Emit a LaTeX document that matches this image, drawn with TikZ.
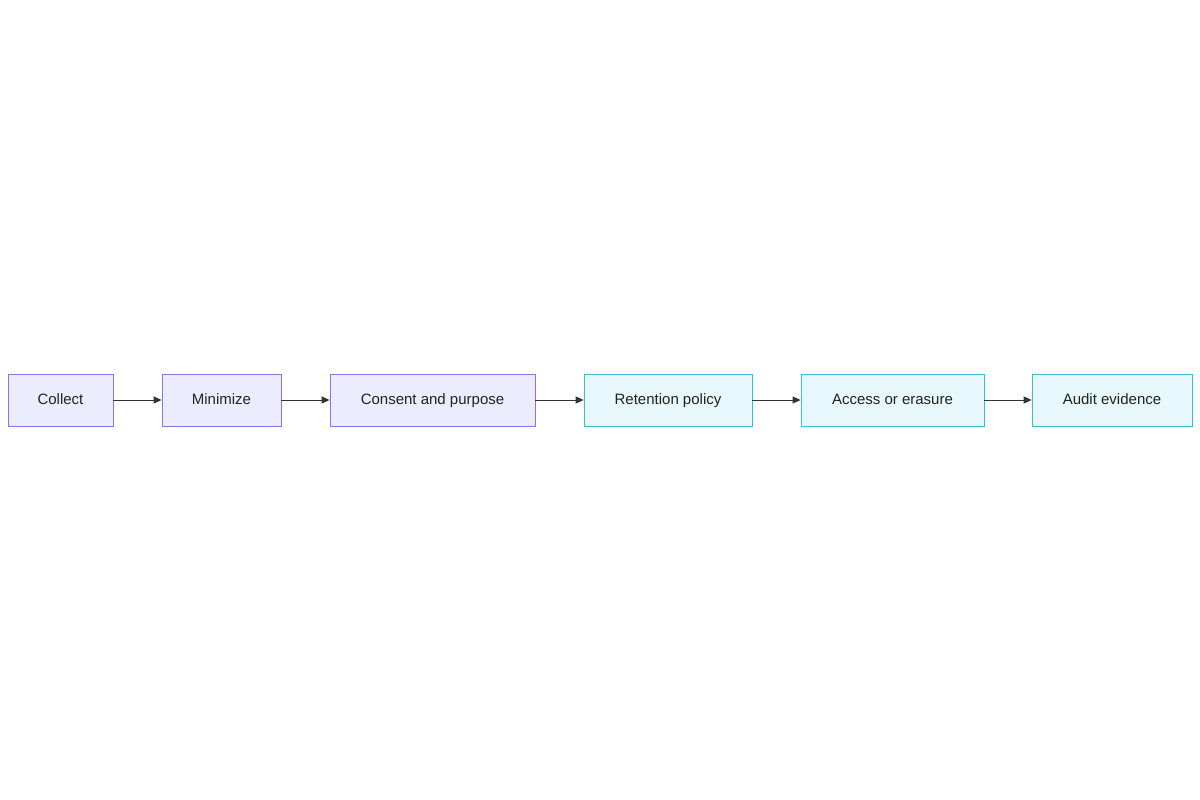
\documentclass[tikz,border=0pt]{standalone}
\usepackage{fontspec}
\setmainfont{Liberation Sans}
\usetikzlibrary{arrows.meta}
\definecolor{pfill}{HTML}{ECECFF}\definecolor{pline}{HTML}{9370DB}
\definecolor{cfill}{HTML}{E6F8FC}\definecolor{cline}{HTML}{3FBCCF}
\definecolor{txt}{HTML}{222222}\definecolor{arr}{HTML}{333333}
\begin{document}
\begin{tikzpicture}[x=1pt,y=-1pt,
 box/.style={draw,line width=0.8pt,minimum height=52pt,inner sep=0pt,text height=11pt,text depth=3pt,font=\fontsize{15}{18}\selectfont,text=txt},
 p/.style={box,fill=pfill,draw=pline}, c/.style={box,fill=cfill,draw=cline},
 link/.style={draw=arr,line width=0.9pt,-{Triangle[length=8pt,width=7pt]}}]
\useasboundingbox (0,0) rectangle (1200,800);
\node[p,minimum width=105pt] (a) at (60.5,400) {Collect};
\node[p,minimum width=119pt] (b) at (221.5,400) {Minimize};
\node[p,minimum width=205pt] (c) at (432.5,400) {Consent and purpose};
\node[c,minimum width=168pt] (d) at (668,400) {Retention policy};
\node[c,minimum width=183pt] (e) at (892.5,400) {Access or erasure};
\node[c,minimum width=160pt] (f) at (1112,400) {Audit evidence};
\draw[link] (a) -- (b); \draw[link] (b) -- (c); \draw[link] (c) -- (d);
\draw[link] (d) -- (e); \draw[link] (e) -- (f);
\end{tikzpicture}
\end{document}
